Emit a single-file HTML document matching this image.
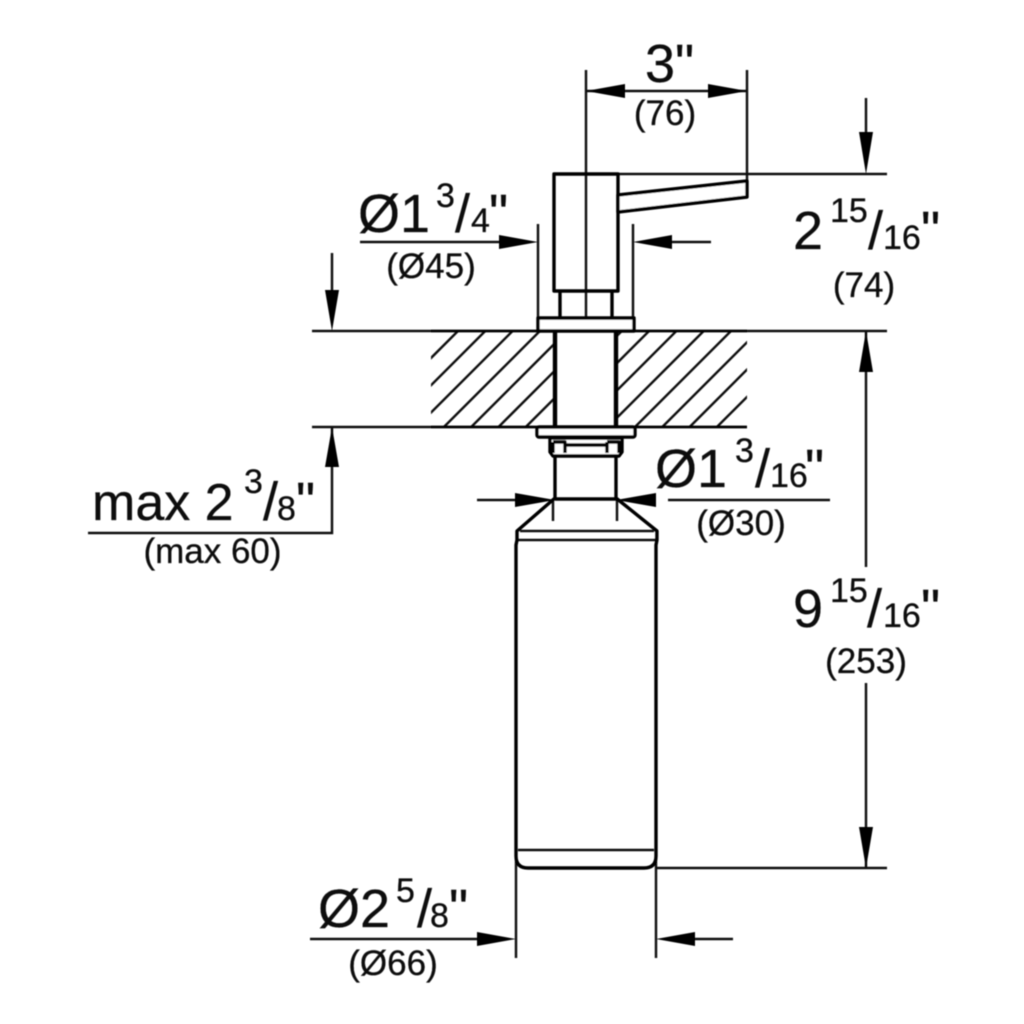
<!DOCTYPE html>
<html><head><meta charset="utf-8"><style>
html,body{margin:0;padding:0;background:#fff}
svg{display:block}
text{font-family:"Liberation Sans",sans-serif;fill:#111;stroke:#111;stroke-width:.3px}
.b{font-size:54px}.s{font-size:34px}.p{font-size:35px;text-anchor:middle}
</style></head><body>
<svg width="1024" height="1024" viewBox="0 0 1024 1024" xmlns="http://www.w3.org/2000/svg">
<defs>
<clipPath id="h"><rect x="431" y="332" width="124" height="95"/><rect x="616" y="332" width="131" height="95"/></clipPath>
<filter id="f"><feGaussianBlur stdDeviation="0.55"/></filter>
</defs>
<g filter="url(#f)">
<g clip-path="url(#h)" stroke="#111" stroke-width="2.4" fill="none">
<line x1="458" y1="331" x2="362" y2="427"/><line x1="485.3" y1="331" x2="389.3" y2="427"/><line x1="512.6" y1="331" x2="416.6" y2="427"/><line x1="539.9" y1="331" x2="443.9" y2="427"/><line x1="567.2" y1="331" x2="471.2" y2="427"/><line x1="594.5" y1="331" x2="498.5" y2="427"/><line x1="621.8" y1="331" x2="525.8" y2="427"/><line x1="649.1" y1="331" x2="553.1" y2="427"/><line x1="676.4" y1="331" x2="580.4" y2="427"/><line x1="703.7" y1="331" x2="607.7" y2="427"/><line x1="731" y1="331" x2="635" y2="427"/><line x1="758.3" y1="331" x2="662.3" y2="427"/><line x1="785.6" y1="331" x2="689.6" y2="427"/><line x1="812.9" y1="331" x2="716.9" y2="427"/>
</g>
<g stroke="#111" stroke-width="2.4" fill="none">
<path d="M312 331H431M747 331H887M312 427H431M619 174H887M586 70V331M747 70V181"/>
<path d="M538 224V318M633 224V318"/>
<path d="M88 533H332V467M332 427V467M332 253V292"/>
<path d="M360 242H500M672 242H711M586 91H747"/>
<path d="M477 500H516M668 500H830"/>
<path d="M310 939H478M695 939H733M516 850V958M656 850V958M656 868H887"/>
<path d="M866 98V134M866 331V567M866 683V868"/>
<path d="M553 500V521M617 500V521"/>
<path d="M520 531H654M518 540H656M518 850H654"/>
</g>
<g stroke="#000" stroke-width="3.4" fill="none" stroke-linejoin="round">
<rect x="554" y="174" width="64" height="117"/>
<path d="M618 195L747 181V197L618 212Z" fill="#fff"/>
<path d="M560 291V318M612 291V318"/>
<rect x="538" y="318" width="96" height="13" fill="#fff"/>
<path d="M431 331H747M431 427H747" stroke-width="2.8"/>
<path d="M555 331V427M616 331V427" stroke-width="4.4"/>
<rect x="537" y="427" width="98" height="10" rx="2" fill="#fff"/>
<path d="M550 438V452L553 456H619L622 452V438Z" fill="#fff"/>
<path d="M553 442H565V453M553 442V453M607 442H619V453M607 442V453M565 445H607"/>
<path d="M555 456V498L517 531V540L516 545V856Q516 868 528 868H644Q656 868 656 856V545L657 540V531L616 498V456M555 499H616"/>
</g>
<g fill="#000">
<path d="M586 91L625 84V98ZM747 91L708 84V98Z"/>
<path d="M866 174L859 132H873ZM866 331L859 372H873ZM866 868L859 827H873Z"/>
<path d="M332 331L325 290H339ZM332 427L325 467H339Z"/>
<path d="M538 242L499 235V249ZM633 242L672 235V249Z"/>
<path d="M555 500L515 493V507ZM616 500L656 493V507Z"/>
<path d="M516 939L477 932V946ZM656 939L695 932V946Z"/>
</g>
</g>
<g filter="url(#f)">
<text class="b" x="645" y="82">3"</text>
<text class="p" x="665" y="125">(76)</text>
<text class="b" x="358" y="232">Ø1</text><text class="s" x="436" y="207">3</text><text class="b" x="455" y="232">/</text><text class="s" x="471" y="232">4</text><text class="b" x="489" y="232">"</text>
<text class="p" x="431" y="278">(Ø45)</text>
<text class="b" x="793" y="249">2</text><text class="s" x="830" y="222">15</text><text class="b" x="868" y="249">/</text><text class="s" x="883" y="249">16</text><text class="b" x="921" y="249">"</text>
<text class="p" x="864" y="297">(74)</text>
<text class="b" style="font-size:52px" x="92" y="520">max 2</text><text class="s" x="244" y="493">3</text><text class="b" x="263" y="520">/</text><text class="s" x="277" y="520">8</text><text class="b" x="296" y="520">"</text>
<text class="p" x="212.500" y="563">(max 60)</text>
<text class="b" x="655" y="487">Ø1</text><text class="s" x="735" y="462">3</text><text class="b" x="755" y="487">/</text><text class="s" x="770" y="487">16</text><text class="b" x="805" y="487">"</text>
<text class="p" x="741" y="535">(Ø30)</text>
<text class="b" x="793" y="627">9</text><text class="s" x="830" y="602">15</text><text class="b" x="867" y="627">/</text><text class="s" x="883" y="627">16</text><text class="b" x="921" y="627">"</text>
<text class="p" x="866" y="673">(253)</text>
<text class="b" x="318" y="927">Ø2</text><text class="s" x="396" y="902">5</text><text class="b" x="417" y="927">/</text><text class="s" x="430" y="927">8</text><text class="b" x="449" y="927">"</text>
<text class="p" x="393" y="975">(Ø66)</text>
</g>
</svg>
</body></html>
